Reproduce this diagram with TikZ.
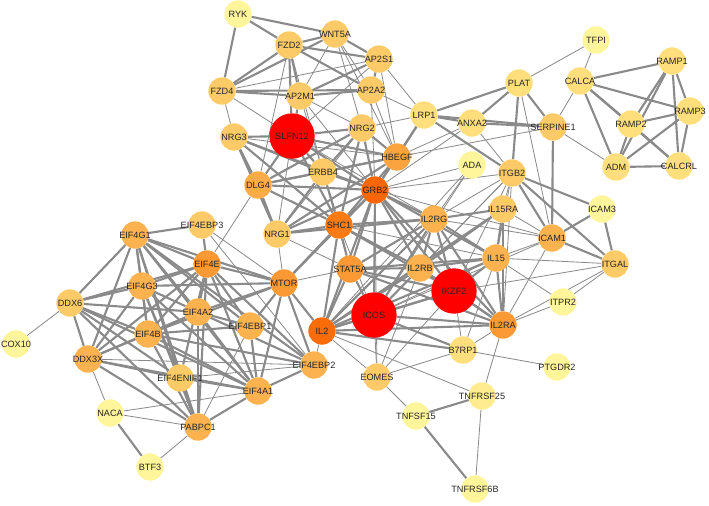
\documentclass[tikz,border=0pt]{standalone}
\usepackage{fontspec}
\setmainfont{Liberation Sans}
\usepackage{xcolor}
\usepackage{tikz}
\usetikzlibrary{backgrounds}
\definecolor{hubRed}{HTML}{FF0000}
\definecolor{degA}{HTML}{FA6602}
\definecolor{degB}{HTML}{FA7A14}
\definecolor{degC}{HTML}{FB9A35}
\definecolor{degD}{HTML}{FCB24F}
\definecolor{degE}{HTML}{FDCA68}
\definecolor{degF}{HTML}{FFDE7C}
\definecolor{degG}{HTML}{FFF59A}
\definecolor{edgeGray}{HTML}{8A8A8A}

\begin{document}
\begin{tikzpicture}[x=0.3mm,y=-0.3mm,font=\fontsize{7.8}{9}\selectfont,
  gn/.style={circle, inner sep=0pt, minimum size=8.2mm, draw=none, label={[text=black!85]center:#1}},
  hub/.style={gn=#1, minimum size=13.6mm},
  thk/.style={edgeGray, line width=1.8pt},
  thn/.style={edgeGray, line width=0.7pt}]
\useasboundingbox (0,0) rectangle (709,505);
% Wnt / AP2 group
\node[gn=RYK, fill=degG] (ryk) at (238,14) {};
\node[gn=WNT5A, fill=degE] (wnt5a) at (335,34) {};
\node[gn=FZD2, fill=degE] (fzd2) at (289,45) {};
\node[gn=AP2S1, fill=degE] (ap2s1) at (379,59) {};
\node[gn=FZD4, fill=degE] (fzd4) at (222,91) {};
\node[gn=AP2M1, fill=degE] (ap2m1) at (300,96) {};
\node[gn=AP2A2, fill=degE] (ap2a2) at (371,90) {};
\node[gn=NRG3, fill=degE] (nrg3) at (234,137) {};
\node[hub=SLFN12, fill=hubRed] (slfn12) at (292,136) {};
\node[gn=NRG2, fill=degE] (nrg2) at (362,128) {};
\node[gn=HBEGF, fill=degC!60!degD] (hbegf) at (397,157) {};
\node[gn=ERBB4, fill=degE] (erbb4) at (323,172) {};
\node[gn=GRB2, fill=degA] (grb2) at (375,190) {};
\node[gn=DLG4, fill=degD!70!degC] (dlg4) at (258,185) {};
\node[gn=SHC1, fill=degB] (shc1) at (339,225) {};
\node[gn=NRG1, fill=degE] (nrg1) at (277,234) {};
% plasminogen / calcitonin group
\node[gn=LRP1, fill=degF] (lrp1) at (424,115) {};
\node[gn=ANXA2, fill=degF] (anxa2) at (472,123) {};
\node[gn=PLAT, fill=degF] (plat) at (519,83) {};
\node[gn=TFPI, fill=degG] (tfpi) at (596,40) {};
\node[gn=CALCA, fill=degF] (calca) at (580,81) {};
\node[gn=RAMP1, fill=degF] (ramp1) at (672,61) {};
\node[gn=RAMP3, fill=degF] (ramp3) at (690,111) {};
\node[gn=RAMP2, fill=degF] (ramp2) at (631,124) {};
\node[gn=SERPINE1, fill=degE] (serpine1) at (553,127) {};
\node[gn=ADM, fill=degF] (adm) at (616,167) {};
\node[gn=CALCRL, fill=degF] (calcrl) at (679,166) {};
\node[gn=ADA, fill=degG] (ada) at (472,165) {};
\node[gn=ITGB2, fill=degE] (itgb2) at (512,173) {};
\node[gn=ICAM3, fill=degG] (icam3) at (602,209) {};
\node[gn=ICAM1, fill=degD] (icam1) at (552,238) {};
\node[gn=ITGAL, fill=degE] (itgal) at (615,264) {};
% interleukin group
\node[gn=IL2RG, fill=degD] (il2rg) at (434,219) {};
\node[gn=IL15RA, fill=degE] (il15ra) at (503,209) {};
\node[gn=STAT5A, fill=degC] (stat5a) at (350,269) {};
\node[gn=IL2RB, fill=degD] (il2rb) at (420,268) {};
\node[gn=IL15, fill=degD] (il15) at (496,258) {};
\node[hub=IKZF2, fill=hubRed] (ikzf2) at (454,291) {};
\node[hub=ICOS, fill=hubRed] (icos) at (374,315) {};
\node[gn=IL2RA, fill=degC] (il2ra) at (503,325) {};
\node[gn=ITPR2, fill=degG] (itpr2) at (563,302) {};
\node[gn=IL2, fill=degA!70!degB] (il2) at (322,331) {};
\node[gn=B7RP1, fill=degF] (b7rp1) at (463,350) {};
\node[gn=PTGDR2, fill=degG] (ptgdr2) at (557,367) {};
\node[gn=EOMES, fill=degE] (eomes) at (377,377) {};
\node[gn=TNFRSF25, fill=degG!60!degF] (tnfrsf25) at (482,396) {};
\node[gn=TNFSF15, fill=degG] (tnfsf15) at (416,416) {};
\node[gn=TNFRSF6B, fill=degG] (tnfrsf6b) at (475,489) {};
% translation group
\node[gn=EIF4G1, fill=degD] (eif4g1) at (135,235) {};
\node[gn=EIF4EBP3, fill=degE] (eif4ebp3) at (202,225) {};
\node[gn=EIF4E, fill=degC] (eif4e) at (207,264) {};
\node[gn=MTOR, fill=degC] (mtor) at (284,283) {};
\node[gn=EIF4G3, fill=degD] (eif4g3) at (142,286) {};
\node[gn=DDX6, fill=degE] (ddx6) at (70,303) {};
\node[gn=EIF4A2, fill=degD] (eif4a2) at (198,312) {};
\node[gn=EIF4B, fill=degD] (eif4b) at (148,334) {};
\node[gn=EIF4EBP1, fill=degD] (eif4ebp1) at (250,326) {};
\node[gn=COX10, fill=degG] (cox10) at (16,344) {};
\node[gn=DDX3X, fill=degD] (ddx3x) at (88,359) {};
\node[gn=EIF4EBP2, fill=degD] (eif4ebp2) at (314,365) {};
\node[gn=EIF4ENIF1, fill=degE] (eif4enif1) at (180,378) {};
\node[gn=EIF4A1, fill=degD] (eif4a1) at (258,391) {};
\node[gn=NACA, fill=degG] (naca) at (110,413) {};
\node[gn=PABPC1, fill=degD] (pabpc1) at (198,427) {};
\node[gn=BTF3, fill=degG] (btf3) at (150,467) {};
% interactions
\begin{scope}[on background layer]
\foreach \a/\b in {ryk/fzd2, ryk/wnt5a, ryk/fzd4, wnt5a/fzd2, wnt5a/fzd4, fzd2/fzd4,
  fzd2/ap2s1, fzd2/ap2a2, fzd2/ap2m1, fzd2/slfn12, fzd4/ap2a2, fzd4/ap2m1, ap2s1/ap2m1,
  ap2s1/ap2a2, ap2a2/ap2m1, ap2m1/slfn12, wnt5a/ap2s1,
  slfn12/nrg3, slfn12/nrg2, slfn12/erbb4, slfn12/dlg4, slfn12/hbegf, slfn12/grb2, slfn12/shc1,
  nrg3/erbb4, nrg3/dlg4, nrg3/grb2, nrg3/shc1, nrg3/nrg1, nrg2/erbb4, nrg2/grb2, nrg2/shc1,
  nrg2/dlg4, nrg2/hbegf, erbb4/dlg4, erbb4/grb2, erbb4/shc1, erbb4/hbegf, erbb4/nrg1,
  hbegf/grb2, hbegf/shc1, hbegf/nrg1, hbegf/lrp1, dlg4/grb2, dlg4/shc1, dlg4/nrg1, dlg4/hbegf,
  grb2/shc1, grb2/stat5a, grb2/il2rg, grb2/il2rb, grb2/il2, grb2/mtor, grb2/nrg1, grb2/icos,
  grb2/ikzf2, grb2/il2ra, grb2/il15, grb2/lrp1,
  shc1/stat5a, shc1/il2rb, shc1/il2, shc1/mtor, shc1/nrg1, shc1/il2rg, shc1/ikzf2, nrg1/il2rg,
  stat5a/il2rb, stat5a/il2, stat5a/il2rg, stat5a/il2ra, stat5a/il15, stat5a/icos, stat5a/ikzf2,
  il2rg/il2rb, il2rg/il15, il2rg/il15ra, il2rg/il2ra, il2rg/il2, il2rg/ikzf2, il2rg/icos,
  il2rb/il15, il2rb/il2ra, il2rb/il2, il2rb/il15ra, il2rb/icos, il2rb/ikzf2,
  il15/il15ra, il15/il2ra, il15/il2, il15/ikzf2, il15ra/il2ra, il15ra/il2,
  il2ra/il2, il2ra/icos, il2ra/ikzf2, ikzf2/icos, ikzf2/il2, icos/il2, icos/b7rp1,
  il2/mtor, il2/b7rp1, tnfsf15/tnfrsf25, tnfsf15/tnfrsf6b,
  itgb2/icam1, itgb2/icam3, itgb2/itgal, itgb2/plat, itgb2/lrp1, icam1/icam3, icam1/itgal,
  icam1/serpine1, icam3/itgal, plat/lrp1, plat/anxa2, plat/serpine1, lrp1/anxa2, lrp1/serpine1,
  anxa2/serpine1, calca/ramp1, calca/ramp2, calca/ramp3, calca/adm, calca/calcrl, ramp1/ramp2,
  ramp1/ramp3, ramp1/calcrl, ramp1/adm, ramp3/ramp2, ramp3/calcrl, ramp3/adm, ramp2/adm,
  ramp2/calcrl, adm/calcrl,
  eif4g1/eif4ebp3, eif4g1/eif4e, eif4g1/eif4g3, eif4g1/ddx6, eif4g1/eif4a2, eif4g1/eif4b,
  eif4g1/ddx3x, eif4g1/eif4a1, eif4g1/pabpc1, eif4g1/eif4enif1, eif4g1/mtor, eif4g1/eif4ebp1,
  eif4g1/eif4ebp2, eif4ebp3/eif4e,
  eif4e/eif4g3, eif4e/ddx6, eif4e/eif4a2, eif4e/eif4b, eif4e/ddx3x, eif4e/eif4a1, eif4e/pabpc1,
  eif4e/eif4enif1, eif4e/mtor, eif4e/eif4ebp1, eif4e/eif4ebp2,
  eif4g3/ddx6, eif4g3/eif4a2, eif4g3/eif4b, eif4g3/ddx3x, eif4g3/eif4a1, eif4g3/pabpc1,
  eif4g3/mtor, eif4g3/eif4enif1,
  ddx6/ddx3x, ddx6/eif4a2, ddx6/eif4b, ddx6/eif4enif1, ddx6/eif4a1, ddx6/pabpc1,
  eif4a2/eif4b, eif4a2/ddx3x, eif4a2/eif4a1, eif4a2/pabpc1, eif4a2/eif4ebp1, eif4a2/eif4ebp2,
  eif4a2/mtor, eif4b/ddx3x, eif4b/eif4a1, eif4b/pabpc1, eif4b/eif4ebp1, eif4b/eif4ebp2,
  eif4b/mtor, eif4ebp1/mtor, eif4ebp1/eif4a1, ddx3x/eif4a1, ddx3x/pabpc1, ddx3x/eif4enif1,
  eif4enif1/pabpc1, eif4enif1/eif4a1, eif4a1/pabpc1, eif4a1/eif4ebp2, eif4a1/mtor,
  naca/btf3, mtor/eif4ebp2}
  \draw[thk] (\a) -- (\b);
\foreach \a/\b in {wnt5a/ap2m1, wnt5a/ap2a2, wnt5a/nrg2, wnt5a/hbegf, fzd2/dlg4, fzd2/erbb4,
  fzd4/ap2s1, fzd4/nrg3, fzd4/slfn12, ap2s1/lrp1, ap2s1/hbegf, ap2s1/slfn12, ap2a2/hbegf,
  ap2a2/grb2, ap2a2/lrp1, ap2m1/grb2, ap2m1/erbb4, ap2m1/nrg2,
  slfn12/nrg1, nrg3/hbegf, nrg2/nrg1, hbegf/serpine1, dlg4/eif4e, erbb4/stat5a, slfn12/il2rg,
  nrg2/lrp1, grb2/ada, grb2/itgb2, grb2/anxa2, grb2/icam1, grb2/eomes, shc1/icos, shc1/il15,
  nrg1/mtor, nrg1/stat5a, stat5a/mtor, il2rg/icam1, il2rg/itgb2, il2rg/ada, il2rb/eomes,
  il2rb/itgb2, il15/icos, il15/itgal, il15/icam1, il15/itpr2, il15/itgb2, il15/b7rp1,
  il15ra/icam1, il15ra/itgb2, il2ra/itpr2, il2ra/tnfrsf25, il2ra/b7rp1, il2ra/icam1,
  il2ra/itgb2, il2ra/itgal, ikzf2/eomes, ikzf2/b7rp1, ikzf2/itgb2, ikzf2/itgal, icos/eomes,
  icos/itgb2, icos/ada, icos/icam1, il2/eomes, il2/tnfrsf25, il2/ada, il2/eif4ebp2,
  b7rp1/ptgdr2, b7rp1/eomes, eomes/tnfsf15, tnfrsf25/tnfrsf6b,
  itgb2/anxa2, icam1/plat, plat/tfpi, serpine1/calca, serpine1/adm, calca/tfpi, itgal/itpr2,
  anxa2/hbegf, ddx6/cox10, eif4ebp3/mtor, eif4ebp3/eif4ebp2, ddx3x/naca, ddx3x/eif4ebp2,
  eif4enif1/eif4ebp2, eif4a1/naca, pabpc1/naca, pabpc1/btf3, eif4ebp1/pabpc1}
  \draw[thn] (\a) -- (\b);
\end{scope}
\end{tikzpicture}
\end{document}
